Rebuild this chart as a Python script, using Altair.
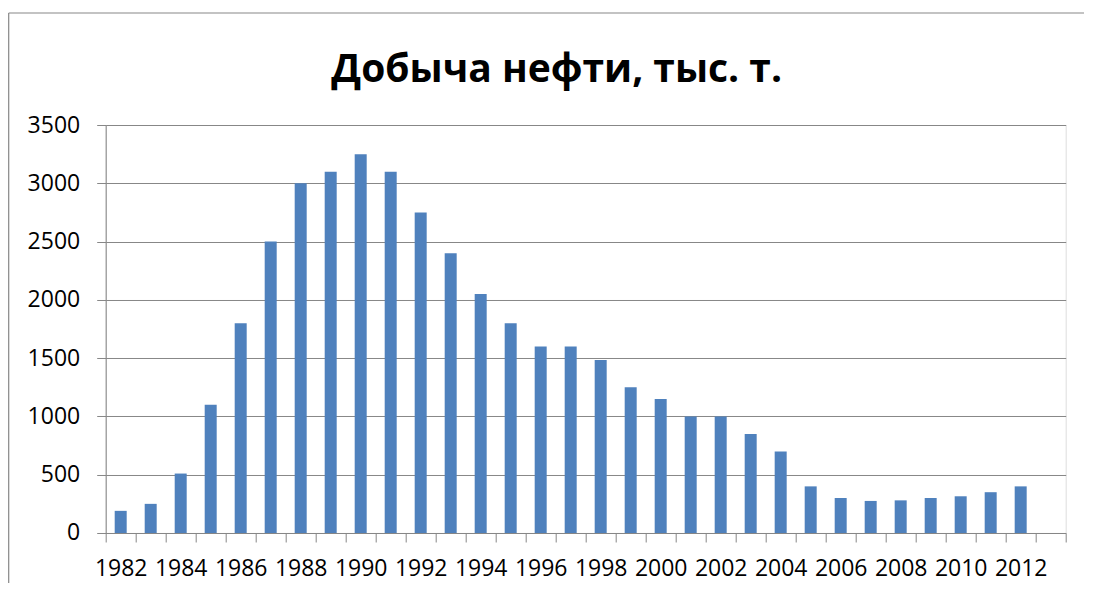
import altair as alt
import pandas as pd

years = [str(y) for y in range(1982, 2014)]
data_years = [str(y) for y in range(1982, 2013)]
production = [190, 250, 510, 1100, 1800, 2500, 3000, 3100, 3250, 3100,
              2750, 2400, 2050, 1800, 1600, 1600, 1485, 1250, 1150, 1000,
              1000, 850, 700, 400, 300, 275, 280, 300, 315, 350, 400]
y_ticks = [0, 500, 1000, 1500, 2000, 2500, 3000, 3500]

df = pd.DataFrame({"year": data_years, "value": production})

GRID = "#878787"
FONT = "Open Sans"

bars = alt.Chart(df).mark_bar(width=12, color="#4F81BD").encode(
    x=alt.X(
        "year:O",
        scale=alt.Scale(domain=years, paddingInner=0, paddingOuter=0),
        axis=alt.Axis(
            title=None,
            labelAngle=0,
            labelExpr="toNumber(datum.value) % 2 == 0 ? datum.label : ''",
            labelOverlap=False,
            labelFontSize=23,
            labelFont=FONT,
            labelColor="#000000",
            labelPadding=16,
            tickBand="extent",
            tickSize=9,
            tickColor=GRID,
            domainColor=GRID,
            grid=False,
        ),
    ),
    y=alt.Y(
        "value:Q",
        scale=alt.Scale(domain=[0, 3500], nice=False),
        axis=alt.Axis(
            title=None,
            values=y_ticks,
            format="d",
            labelFontSize=23,
            labelFont=FONT,
            labelColor="#000000",
            labelPadding=17,
            tickSize=9,
            tickColor=GRID,
            domainColor=GRID,
            grid=True,
            gridColor=GRID,
            gridOpacity=1,
        ),
    ),
)

frame_df = pd.DataFrame({"a": [0]})
top_border = alt.Chart(frame_df).mark_rule(color=GRID, strokeWidth=1.2).encode(
    x=alt.value(-97), x2=alt.value(1000), y=alt.value(-112)
)
left_border = alt.Chart(frame_df).mark_rule(color=GRID, strokeWidth=1.2).encode(
    x=alt.value(-97), y=alt.value(-112), y2=alt.value(500)
)

chart = alt.layer(top_border, left_border, bars).properties(
    width=960,
    height=408,
    title=alt.TitleParams(
        "Добыча нефти, тыс. т.",
        font=FONT,
        fontSize=39,
        fontWeight="bold",
        color="#000000",
        anchor="middle",
        frame="group",
        baseline="alphabetic",
        dx=-29,
        offset=-109,
    ),
    autosize=alt.AutoSizeParams(type="none"),
    padding={"left": 97.7, "top": 117, "right": 18.5, "bottom": 50},
).configure_view(strokeWidth=0).configure(background="white")

chart.save("out.html", embed_options={"renderer": "svg", "actions": False})
